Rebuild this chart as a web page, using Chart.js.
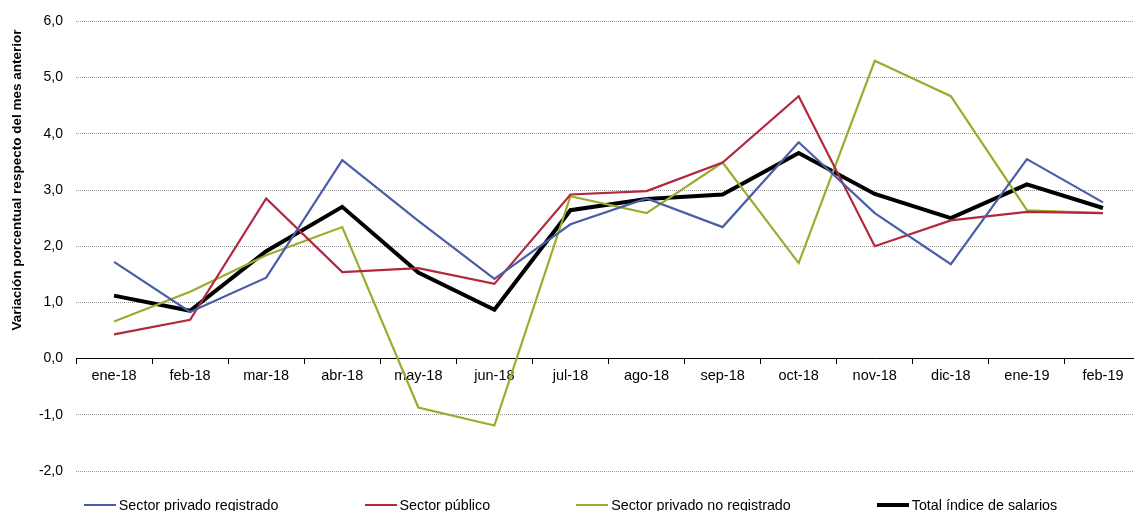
<!DOCTYPE html>
<html>
<head>
<meta charset="utf-8">
<script src="https://cdn.jsdelivr.net/npm/chart.js@4/dist/chart.umd.min.js"></script>
<style>
  html, body { margin: 0; padding: 0; overflow: hidden; background: #fff; }
  #wrap { position: relative; width: 1141px; height: 511px; }
  #legend {
    position: absolute; left: 0; top: 497px; width: 1141px;
    display: flex; justify-content: center; gap: 86px;
    font: 14.3px "Liberation Sans", Arial, sans-serif; color: #000;
  }
  #legend .item { display: flex; align-items: center; height: 16px; }
  #legend .swatch { display: inline-block; width: 32px; margin-right: 3px; }
</style>
</head>
<body>
<div id="wrap">
  <canvas id="chart" width="1141" height="511"></canvas>
  <div id="legend"></div>
</div>
<script>
const months = ['ene-18', 'feb-18', 'mar-18', 'abr-18', 'may-18', 'jun-18', 'jul-18',
                'ago-18', 'sep-18', 'oct-18', 'nov-18', 'dic-18', 'ene-19', 'feb-19'];

// variación % respecto del mes anterior
const privadoRegistrado = [1.72, 0.83, 1.44, 3.53, 2.45, 1.42, 2.39, 2.85, 2.34, 3.85, 2.59, 1.68, 3.55, 2.78];
const sectorPublico     = [0.43, 0.69, 2.85, 1.54, 1.61, 1.33, 2.92, 2.98, 3.49, 4.67, 2.00, 2.46, 2.61, 2.59];
const privadoNoRegistr  = [0.66, 1.19, 1.84, 2.34, -0.87, -1.19, 2.89, 2.59, 3.49, 1.70, 5.30, 4.67, 2.64, 2.59];
const totalIndice       = [1.12, 0.85, 1.91, 2.70, 1.53, 0.87, 2.64, 2.84, 2.92, 3.66, 2.93, 2.50, 3.10, 2.68];

const seriesNames = ['Sector privado registrado', 'Sector público', 'Sector privado no registrado', 'Total índice de salarios'];
const yTickMin = -2, yTickMax = 6, yStep = 1;
const yAxisTitle = 'Variación porcentual respecto del mes anterior';

const FONT = '"Liberation Sans", Arial, sans-serif';

function makeSeries(label, data, color, width) {
  return {
    label: label,
    data: data,
    borderColor: color,
    backgroundColor: color,
    borderWidth: width,
    pointRadius: 0,
    tension: 0,
    fill: false
  };
}

// rotated axis title, Excel puts it off-center so draw it ourselves
const yTitlePlugin = {
  id: 'yTitle',
  afterDraw(chart) {
    const ctx = chart.ctx;
    ctx.save();
    ctx.translate(17, 180);
    ctx.rotate(-Math.PI / 2);
    ctx.font = 'bold 13.5px ' + FONT;
    ctx.fillStyle = '#000';
    ctx.textAlign = 'center';
    ctx.textBaseline = 'middle';
    ctx.fillText(yAxisTitle, 0, 0);
    ctx.restore();
  }
};

const ctx = document.getElementById('chart').getContext('2d');
const chart = new Chart(ctx, {
  type: 'line',
  data: {
    labels: months,
    datasets: [
      makeSeries(seriesNames[0], privadoRegistrado, 'rgb(74,94,168)', 2.2),
      makeSeries(seriesNames[1], sectorPublico, 'rgb(178,40,62)', 2.2),
      makeSeries(seriesNames[2], privadoNoRegistr, 'rgb(154,172,46)', 2.2),
      makeSeries(seriesNames[3], totalIndice, '#000', 4)
    ]
  },
  options: {
    responsive: false,
    animation: false,
    layout: { padding: { top: 20, bottom: 40, left: 0, right: 0 } },
    scales: {
      x: {
        position: { y: 0 },
        offset: true,
        grid: {
          offset: true,
          drawOnChartArea: false,
          drawTicks: true,
          tickLength: 5,
          color: '#000'
        },
        border: { display: true, color: '#000', width: 1 },
        ticks: {
          autoSkip: false,
          maxRotation: 0,
          padding: 4,
          color: '#000',
          font: { family: FONT, size: 14.5 }
        }
      },
      y: {
        min: yTickMin,
        max: yTickMax,
        afterFit: (scale) => { scale.width = 76; },
        grid: { color: '#9a9a9a', lineWidth: 1, drawTicks: false },
        border: { display: false, dash: [1, 1] },
        ticks: {
          stepSize: yStep,
          padding: 13,
          color: '#000',
          font: { family: FONT, size: 14 },
          callback: (v) => v.toFixed(1).replace('.', ',')
        }
      }
    },
    plugins: {
      legend: { display: false },
      tooltip: { enabled: false }
    }
  },
  plugins: [yTitlePlugin]
});

// html legend, spacing is wider than chart.js likes
const legendEl = document.getElementById('legend');
chart.data.datasets.forEach(ds => {
  const item = document.createElement('div');
  item.className = 'item';
  const sw = document.createElement('span');
  sw.className = 'swatch';
  sw.style.height = (ds.borderWidth >= 4 ? 4 : 2) + 'px';
  sw.style.background = ds.borderColor;
  item.appendChild(sw);
  item.appendChild(document.createTextNode(ds.label));
  legendEl.appendChild(item);
});
</script>
</body>
</html>
